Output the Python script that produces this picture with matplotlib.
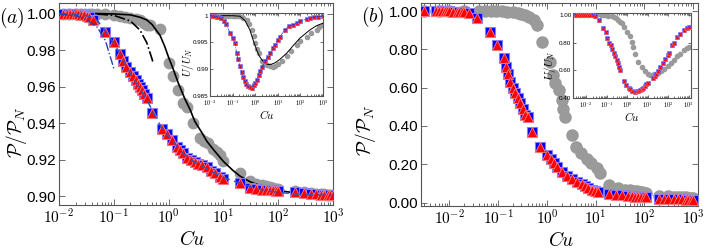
import numpy as np
import matplotlib
matplotlib.use("Agg")
import matplotlib.pyplot as plt
from matplotlib.ticker import FixedLocator, FixedFormatter, LogLocator, NullFormatter

plt.rcParams['font.family'] = ['Liberation Sans', 'DejaVu Sans']
plt.rcParams['mathtext.fontset'] = 'cm'

# ---------------- panel (a) main ----------------
cu_a_gray = [0.012, 0.015, 0.02, 0.025, 0.03, 0.035, 0.04, 0.05, 0.07, 0.1, 0.13, 0.16,
             0.2, 0.25, 0.3, 0.35, 0.4, 0.46, 0.7, 1.0, 1.2, 1.5, 1.8, 2.2, 2.8, 3.7, 4.5,
             5.2, 6.4, 7.5, 8.6, 10, 20, 30, 40, 50, 60, 70, 80, 90, 100, 200, 300, 400,
             500, 600, 700, 800, 900, 1000]
p_a_gray = [1.0, 1.0, 1.0, 1.0, 1.0, 1.0, 1.0, 1.0, 1.0, 0.999, 0.9985, 0.998,
            0.9975, 0.997, 0.9963, 0.995, 0.994, 0.9936, 0.9918, 0.973, 0.966, 0.958, 0.951,
            0.949, 0.940, 0.932, 0.930, 0.929, 0.926, 0.924, 0.9225, 0.919, 0.9125, 0.908,
            0.9065, 0.906, 0.9055, 0.905, 0.9045, 0.904, 0.904, 0.9025, 0.902, 0.9015,
            0.9012, 0.901, 0.901, 0.9008, 0.9007, 0.9005]

cu_a_sim = [0.012, 0.014, 0.016, 0.018, 0.02, 0.022, 0.025, 0.028, 0.032, 0.036, 0.042,
            0.07, 0.1, 0.13, 0.15, 0.17, 0.2, 0.22, 0.25, 0.28, 0.3, 0.33, 0.36, 0.4, 0.5,
            0.75, 0.95, 1.15, 1.4, 1.6, 1.8, 2.2, 2.6, 3.0, 3.5, 4.0, 5.0, 6.0, 7.0, 8.6,
            10, 20, 30, 40, 50, 60, 70, 80, 90, 100, 200, 300, 400, 500, 600, 700, 800,
            900, 1000]
p_a_sim = [1.0, 0.9999, 0.9998, 0.9997, 0.9996, 0.9995, 0.9993, 0.999, 0.9985, 0.998,
           0.9963, 0.9898, 0.9843, 0.978, 0.974, 0.9705, 0.968, 0.966, 0.9635, 0.9615, 0.960,
           0.958, 0.956, 0.9535, 0.9455, 0.937, 0.934, 0.9305, 0.927, 0.925, 0.9235, 0.921,
           0.9195, 0.9185, 0.9175, 0.917, 0.916, 0.914, 0.9125, 0.9105, 0.9095, 0.907,
           0.9043, 0.9038, 0.9035, 0.9033, 0.9033, 0.9032, 0.903, 0.903, 0.902, 0.9015,
           0.9012, 0.901, 0.9008, 0.9007, 0.9006, 0.9005, 0.9005]

cu_a_fit_gray = [0.01, 0.05, 0.1, 0.2, 0.3, 0.4, 0.5, 0.7, 0.85, 1.0, 1.2, 1.5, 2.0, 2.5,
                 3.0, 4.0, 5.0, 7.0, 10, 15, 20, 30, 40, 70, 100, 200, 300, 1000]
p_a_fit_gray = [1.0, 1.0, 0.9998, 0.9993, 0.998, 0.9965, 0.994, 0.988, 0.982, 0.976, 0.970,
                0.962, 0.953, 0.947, 0.941, 0.935, 0.930, 0.9245, 0.919, 0.914, 0.911,
                0.908, 0.9065, 0.9045, 0.903, 0.9018, 0.9012, 0.9005]

cu_a_fit_sim = [0.01, 0.02, 0.03, 0.04, 0.05, 0.07, 0.1, 0.13, 0.17, 0.22, 0.3, 0.4, 0.52,
                0.76, 1.2, 1.8, 3.0, 5.0, 8.6, 20, 40, 100, 300, 1000]
p_a_fit_sim = [1.0, 0.9997, 0.999, 0.998, 0.9962, 0.9905, 0.9835, 0.978, 0.971, 0.965,
               0.959, 0.953, 0.946, 0.937, 0.930, 0.9235, 0.9185, 0.915, 0.911, 0.907,
               0.904, 0.902, 0.9008, 0.9003]

cu_a_low_sim = [0.01, 0.02, 0.03, 0.05, 0.07, 0.1]
p_a_low_sim = [0.9997, 0.9988, 0.9973, 0.9925, 0.9853, 0.970]
cu_a_low_gray = [0.05, 0.1, 0.2, 0.3, 0.4, 0.5, 0.52]
p_a_low_gray = [0.99975, 0.999, 0.996, 0.991, 0.984, 0.975, 0.973]

# ---------------- panel (a) inset ----------------
cu_ia_gray = [0.01, 0.015, 0.02, 0.03, 0.04, 0.05, 0.07, 0.1, 0.13, 0.16, 0.2, 0.25, 0.3,
              0.42, 0.55, 0.7, 0.85, 1.0, 1.2, 1.4, 1.9, 2.5, 3.2, 4.5, 6, 7.5, 10, 15, 25,
              40, 69, 100, 190, 300, 525, 700, 1000]
u_ia_gray = [1.0, 1.0, 1.0, 1.0, 1.0, 1.0, 1.0, 1.0, 1.0, 1.0, 0.9999, 0.9998, 0.9996,
             0.9992, 0.9984, 0.9974, 0.9962, 0.9949, 0.9938, 0.993, 0.9915, 0.991, 0.9908,
             0.9906, 0.9905, 0.9906, 0.9909, 0.9915, 0.9924, 0.9934, 0.9946, 0.9953, 0.9961,
             0.9967, 0.9974, 0.9978, 0.9983]
cu_ia_fit = [0.01, 0.1, 0.21, 0.35, 0.58, 0.8, 1.16, 1.5, 1.94, 2.7, 3.7, 5, 7.5, 12, 24.8,
             50, 95, 265, 500, 1000]
u_ia_fit = [1.0, 1.0, 0.9999, 0.9991, 0.99735, 0.9955, 0.9936, 0.9925, 0.9918, 0.9911,
            0.9909, 0.9909, 0.9912, 0.9918, 0.993, 0.9945, 0.9958, 0.99735, 0.9981, 0.9986]
cu_ia_sim = [0.012, 0.015, 0.02, 0.025, 0.03, 0.04, 0.05, 0.077, 0.1, 0.128, 0.15, 0.17,
             0.21, 0.25, 0.29, 0.35, 0.4, 0.48, 0.6, 0.7, 0.85, 1.0, 1.16, 1.4, 1.6, 2.0,
             2.7, 3.5, 4.5, 6, 7.5, 10, 12.5, 21, 30, 45, 69, 100, 200, 265, 400, 600, 1000]
u_ia_sim = [0.99995, 0.9999, 0.9998, 0.9997, 0.9995, 0.999, 0.9985, 0.9968, 0.9958, 0.9949,
            0.993, 0.992, 0.9906, 0.9895, 0.9885, 0.9878, 0.9872, 0.9868, 0.9866, 0.9865,
            0.987, 0.9875, 0.988, 0.989, 0.9896, 0.9904, 0.9915, 0.9923, 0.993, 0.9939,
            0.9946, 0.9955, 0.9961, 0.9974, 0.998, 0.9983, 0.9986, 0.999, 0.9994, 0.9995,
            0.9997, 0.9998, 0.9999]

# ---------------- panel (b) main ----------------
cu_b_gray = [0.003, 0.006, 0.01, 0.02, 0.04, 0.054, 0.07, 0.09, 0.12, 0.15, 0.2, 0.26,
             0.3, 0.35, 0.42, 0.53, 0.62, 0.78, 1.15, 1.35, 1.45, 1.8, 2.0, 2.15, 2.3, 3.2,
             4.0, 5.1, 6.5, 8.2, 10.5, 12, 19, 29, 40, 50, 60, 70, 80, 90, 100, 110, 200,
             300, 400, 500, 600, 700, 800, 900, 1000]
p_b_gray = [1.0, 1.0, 1.0, 1.0, 1.0, 1.0, 1.0, 0.999, 0.998, 0.997, 0.995, 0.99, 0.985,
            0.978, 0.969, 0.953, 0.927, 0.84, 0.735, 0.666, 0.622, 0.587, 0.535, 0.49,
            0.448, 0.352, 0.291, 0.257, 0.23, 0.205, 0.179, 0.152, 0.09, 0.075, 0.068,
            0.064, 0.061, 0.058, 0.056, 0.054, 0.052, 0.05, 0.035, 0.032, 0.03, 0.029,
            0.028, 0.027, 0.026, 0.026, 0.025]
cu_b_sim = [0.003, 0.0052, 0.006, 0.007, 0.008, 0.009, 0.01, 0.012, 0.014, 0.016, 0.018,
            0.02, 0.025, 0.037, 0.069, 0.095, 0.13, 0.146, 0.16, 0.175, 0.2, 0.22, 0.25,
            0.28, 0.32, 0.36, 0.4, 0.49, 0.72, 0.99, 1.2, 1.37, 1.6, 2.0, 2.6, 3.3, 4.2,
            5.2, 6, 7, 8.3, 9.5, 11, 19, 26, 35, 45, 55, 65, 75, 85, 100, 110, 200, 250,
            300, 400, 500, 600, 700, 800, 900, 1000]
p_b_sim = [1.0, 1.0, 1.0, 0.999, 0.999, 0.998, 0.998, 0.997, 0.996, 0.995, 0.994, 0.993,
           0.99, 0.962, 0.892, 0.822, 0.753, 0.709, 0.67, 0.631, 0.6, 0.57, 0.545, 0.52,
           0.49, 0.457, 0.445, 0.37, 0.291, 0.248, 0.225, 0.205, 0.185, 0.161, 0.14, 0.122,
           0.105, 0.095, 0.085, 0.076, 0.066, 0.06, 0.055, 0.045, 0.04, 0.037, 0.034, 0.032,
           0.031, 0.03, 0.029, 0.028, 0.027, 0.02, 0.019, 0.018, 0.017, 0.016, 0.016, 0.015,
           0.015, 0.015, 0.015]

# ---------------- panel (b) inset ----------------
cu_ib_gray = [0.003, 0.005, 0.008, 0.012, 0.02, 0.03, 0.05, 0.07, 0.09, 0.12, 0.17, 0.22,
              0.27, 0.35, 0.45, 0.55, 0.7, 0.95, 1.3, 1.66, 2.0, 2.4, 3.5, 5, 7.2, 10, 12.5,
              20, 31, 45, 65, 95, 135, 200, 277, 400, 577, 800, 1000]
u_ib_gray = [1.0, 1.0, 1.0, 1.0, 1.0, 1.0, 1.0, 1.0, 1.0, 0.995, 0.99, 0.983, 0.976,
             0.962, 0.95, 0.94, 0.915, 0.88, 0.845, 0.807, 0.765, 0.72, 0.66, 0.625, 0.59,
             0.575, 0.565, 0.568, 0.577, 0.59, 0.61, 0.63, 0.65, 0.675, 0.70, 0.72, 0.746,
             0.76, 0.77]
cu_ib_sim = [0.003, 0.004, 0.005, 0.006, 0.008, 0.01, 0.012, 0.015, 0.02, 0.025, 0.043,
             0.062, 0.089, 0.107, 0.13, 0.155, 0.18, 0.22, 0.26, 0.3, 0.35, 0.4, 0.46, 0.66,
             0.9, 1.15, 1.4, 1.8, 2.4, 3.0, 3.5, 4.1, 5, 6, 7.2, 8.5, 10, 18, 22, 25, 31,
             40, 54, 70, 94, 110, 163, 200, 277, 400, 580, 800, 1000]
u_ib_sim = [1.0, 1.0, 1.0, 1.0, 1.0, 1.0, 1.0, 0.999, 0.998, 0.995, 0.964, 0.904, 0.88,
            0.83, 0.80, 0.78, 0.755, 0.725, 0.70, 0.675, 0.65, 0.625, 0.60, 0.517, 0.49,
            0.47, 0.46, 0.45, 0.444, 0.445, 0.448, 0.452, 0.46, 0.47, 0.485, 0.497, 0.505,
            0.54, 0.56, 0.575, 0.59, 0.62, 0.65, 0.68, 0.71, 0.725, 0.78, 0.80, 0.843,
            0.865, 0.89, 0.905, 0.915]

GRAY = '#9a9a9a'
SPINE = '#555555'


def style(ax, xmajors, labelsize, major_len=4, minor_len=2, pad=2):
    ax.set_xscale('log')
    ax.xaxis.set_major_locator(FixedLocator(xmajors))
    ax.xaxis.set_major_formatter(FixedFormatter(
        [r'$\mathsf{10^{%d}}$' % int(round(np.log10(v))) for v in xmajors]))
    ax.xaxis.set_minor_locator(LogLocator(base=10, subs=np.arange(2, 10), numticks=20))
    ax.xaxis.set_minor_formatter(NullFormatter())
    ax.tick_params(which='both', direction='in', top=True, right=True, colors=SPINE,
                   labelcolor='black', labelsize=labelsize, width=0.6)
    ax.tick_params(which='major', length=major_len, pad=pad)
    ax.tick_params(which='minor', length=minor_len)
    for s in ax.spines.values():
        s.set_color(SPINE)
        s.set_linewidth(0.8)


fig = plt.figure(figsize=(7.06, 2.5), dpi=100)

# ---- (a)
ax1 = fig.add_axes([0.0836, 0.18, 0.388, 0.808])
ax1.plot(cu_a_gray, p_a_gray, 'o', color=GRAY, ms=7.5, mec=GRAY, zorder=2)
ax1.plot(cu_a_fit_gray, p_a_fit_gray, '-', color='black', lw=1.2, zorder=3)
ax1.plot(cu_a_low_gray, p_a_low_gray, '-.', color='black', lw=1.2, zorder=3)
ax1.plot(cu_a_sim, p_a_sim, 's', color='blue', ms=6.5, mec='#7f7fff', mew=0.8, zorder=4)
ax1.plot(cu_a_sim, p_a_sim, '^', color='red', ms=7, mec='#ff7f7f', mew=0.6, zorder=5)
ax1.plot(cu_a_fit_sim, p_a_fit_sim, '--', color='#3355bb', lw=1.1, dashes=(5, 3), zorder=6)
ax1.plot(cu_a_low_sim, p_a_low_sim, '-.', color='#2244aa', lw=1.0, zorder=6)
style(ax1, [1e-2, 1e-1, 1e0, 1e1, 1e2, 1e3], 11)
ax1.set_xlim(1e-2, 1e3)
ax1.set_ylim(0.8951, 1.0058)
ax1.set_yticks([0.90, 0.92, 0.94, 0.96, 0.98, 1.00])
ax1.set_yticklabels(['0.90', '0.92', '0.94', '0.96', '0.98', '1.00'])
ax1.set_xlabel(r'$Cu$', fontsize=14)
ax1.xaxis.set_label_coords(0.485, -0.125)
ax1.set_ylabel(r'$\mathcal{P}/\mathcal{P}_N$', fontsize=14)
ax1.yaxis.set_label_coords(-0.11, 0.36)
fig.text(0.017, 0.93, r'$(a)$', fontsize=14, ha='center', va='center')

ins1 = fig.add_axes([0.2975, 0.616, 0.160, 0.332])
ins1.plot(cu_ia_gray, u_ia_gray, 'o', color=GRAY, ms=3, mec=GRAY, zorder=2)
ins1.plot(cu_ia_fit, u_ia_fit, '-', color='black', lw=0.7, zorder=3)
ins1.plot(cu_ia_sim, u_ia_sim, 's', color='blue', ms=2.6, mec='#7f7fff', mew=0.4, zorder=4)
ins1.plot(cu_ia_sim, u_ia_sim, '^', color='red', ms=3, mec='#ff7f7f', mew=0.3, zorder=5)
ins1.plot(cu_ia_sim, u_ia_sim, '-.', color='#2244aa', lw=0.5, zorder=6)
style(ins1, [1e-2, 1e-1, 1e0, 1e1, 1e2, 1e3], 4.5, 2.5, 1.3, pad=1.2)
ins1.set_xlim(1e-2, 1e3)
ins1.set_ylim(0.985, 1.0005)
ins1.set_yticks([0.985, 0.99, 0.995, 1.0])
ins1.set_yticklabels(['0.985', '0.99', '0.995', '1'])
ins1.set_xlabel(r'$Cu$', fontsize=8)
ins1.xaxis.set_label_coords(0.5, -0.14)
ins1.set_ylabel(r'$U/U_N$', fontsize=8)
ins1.yaxis.set_label_coords(-0.125, 0.41)

# ---- (b)
ax2 = fig.add_axes([0.5963, 0.176, 0.3924, 0.812])
ax2.plot(cu_b_gray, p_b_gray, 'o', color=GRAY, ms=8, mec=GRAY, zorder=2)
ax2.plot(cu_b_sim, p_b_sim, 's', color='blue', ms=7, mec='#7f7fff', mew=0.8, zorder=4)
ax2.plot(cu_b_sim, p_b_sim, '^', color='red', ms=7.5, mec='#ff7f7f', mew=0.6, zorder=5)
style(ax2, [1e-2, 1e-1, 1e0, 1e1, 1e2, 1e3], 11)
ax2.set_xlim(2.6e-3, 1.26e3)
ax2.set_ylim(-0.018, 1.042)
ax2.set_yticks([0.0, 0.2, 0.4, 0.6, 0.8, 1.0])
ax2.set_yticklabels(['0.00', '0.20', '0.40', '0.60', '0.80', '1.00'])
ax2.set_xlabel(r'$Cu$', fontsize=14)
ax2.xaxis.set_label_coords(0.505, -0.123)
ax2.set_ylabel(r'$\mathcal{P}/\mathcal{P}_N$', fontsize=14)
ax2.yaxis.set_label_coords(-0.155, 0.374)
fig.text(0.528, 0.934, r'$(b)$', fontsize=14, ha='center', va='center')

ins2 = fig.add_axes([0.8116, 0.607, 0.167, 0.342])
ins2.plot(cu_ib_gray, u_ib_gray, 'o', color=GRAY, ms=3, mec=GRAY, zorder=2)
ins2.plot(cu_ib_sim, u_ib_sim, 's', color='blue', ms=2.6, mec='#7f7fff', mew=0.4, zorder=4)
ins2.plot(cu_ib_sim, u_ib_sim, '^', color='red', ms=3, mec='#ff7f7f', mew=0.3, zorder=5)
style(ins2, [1e-2, 1e-1, 1e0, 1e1, 1e2, 1e3], 4.5, 2.5, 1.3, pad=1.2)
ins2.set_xlim(2.2e-3, 1.3e3)
ins2.set_ylim(0.395, 1.017)
ins2.set_yticks([0.4, 0.6, 0.8, 1.0])
ins2.set_yticklabels(['0.40', '0.60', '0.80', '1.00'])
ins2.set_xlabel(r'$Cu$', fontsize=8)
ins2.xaxis.set_label_coords(0.5, -0.14)
ins2.set_ylabel(r'$U/U_N$', fontsize=8)
ins2.yaxis.set_label_coords(-0.13, 0.39)

fig.savefig('out.png', dpi=100)
